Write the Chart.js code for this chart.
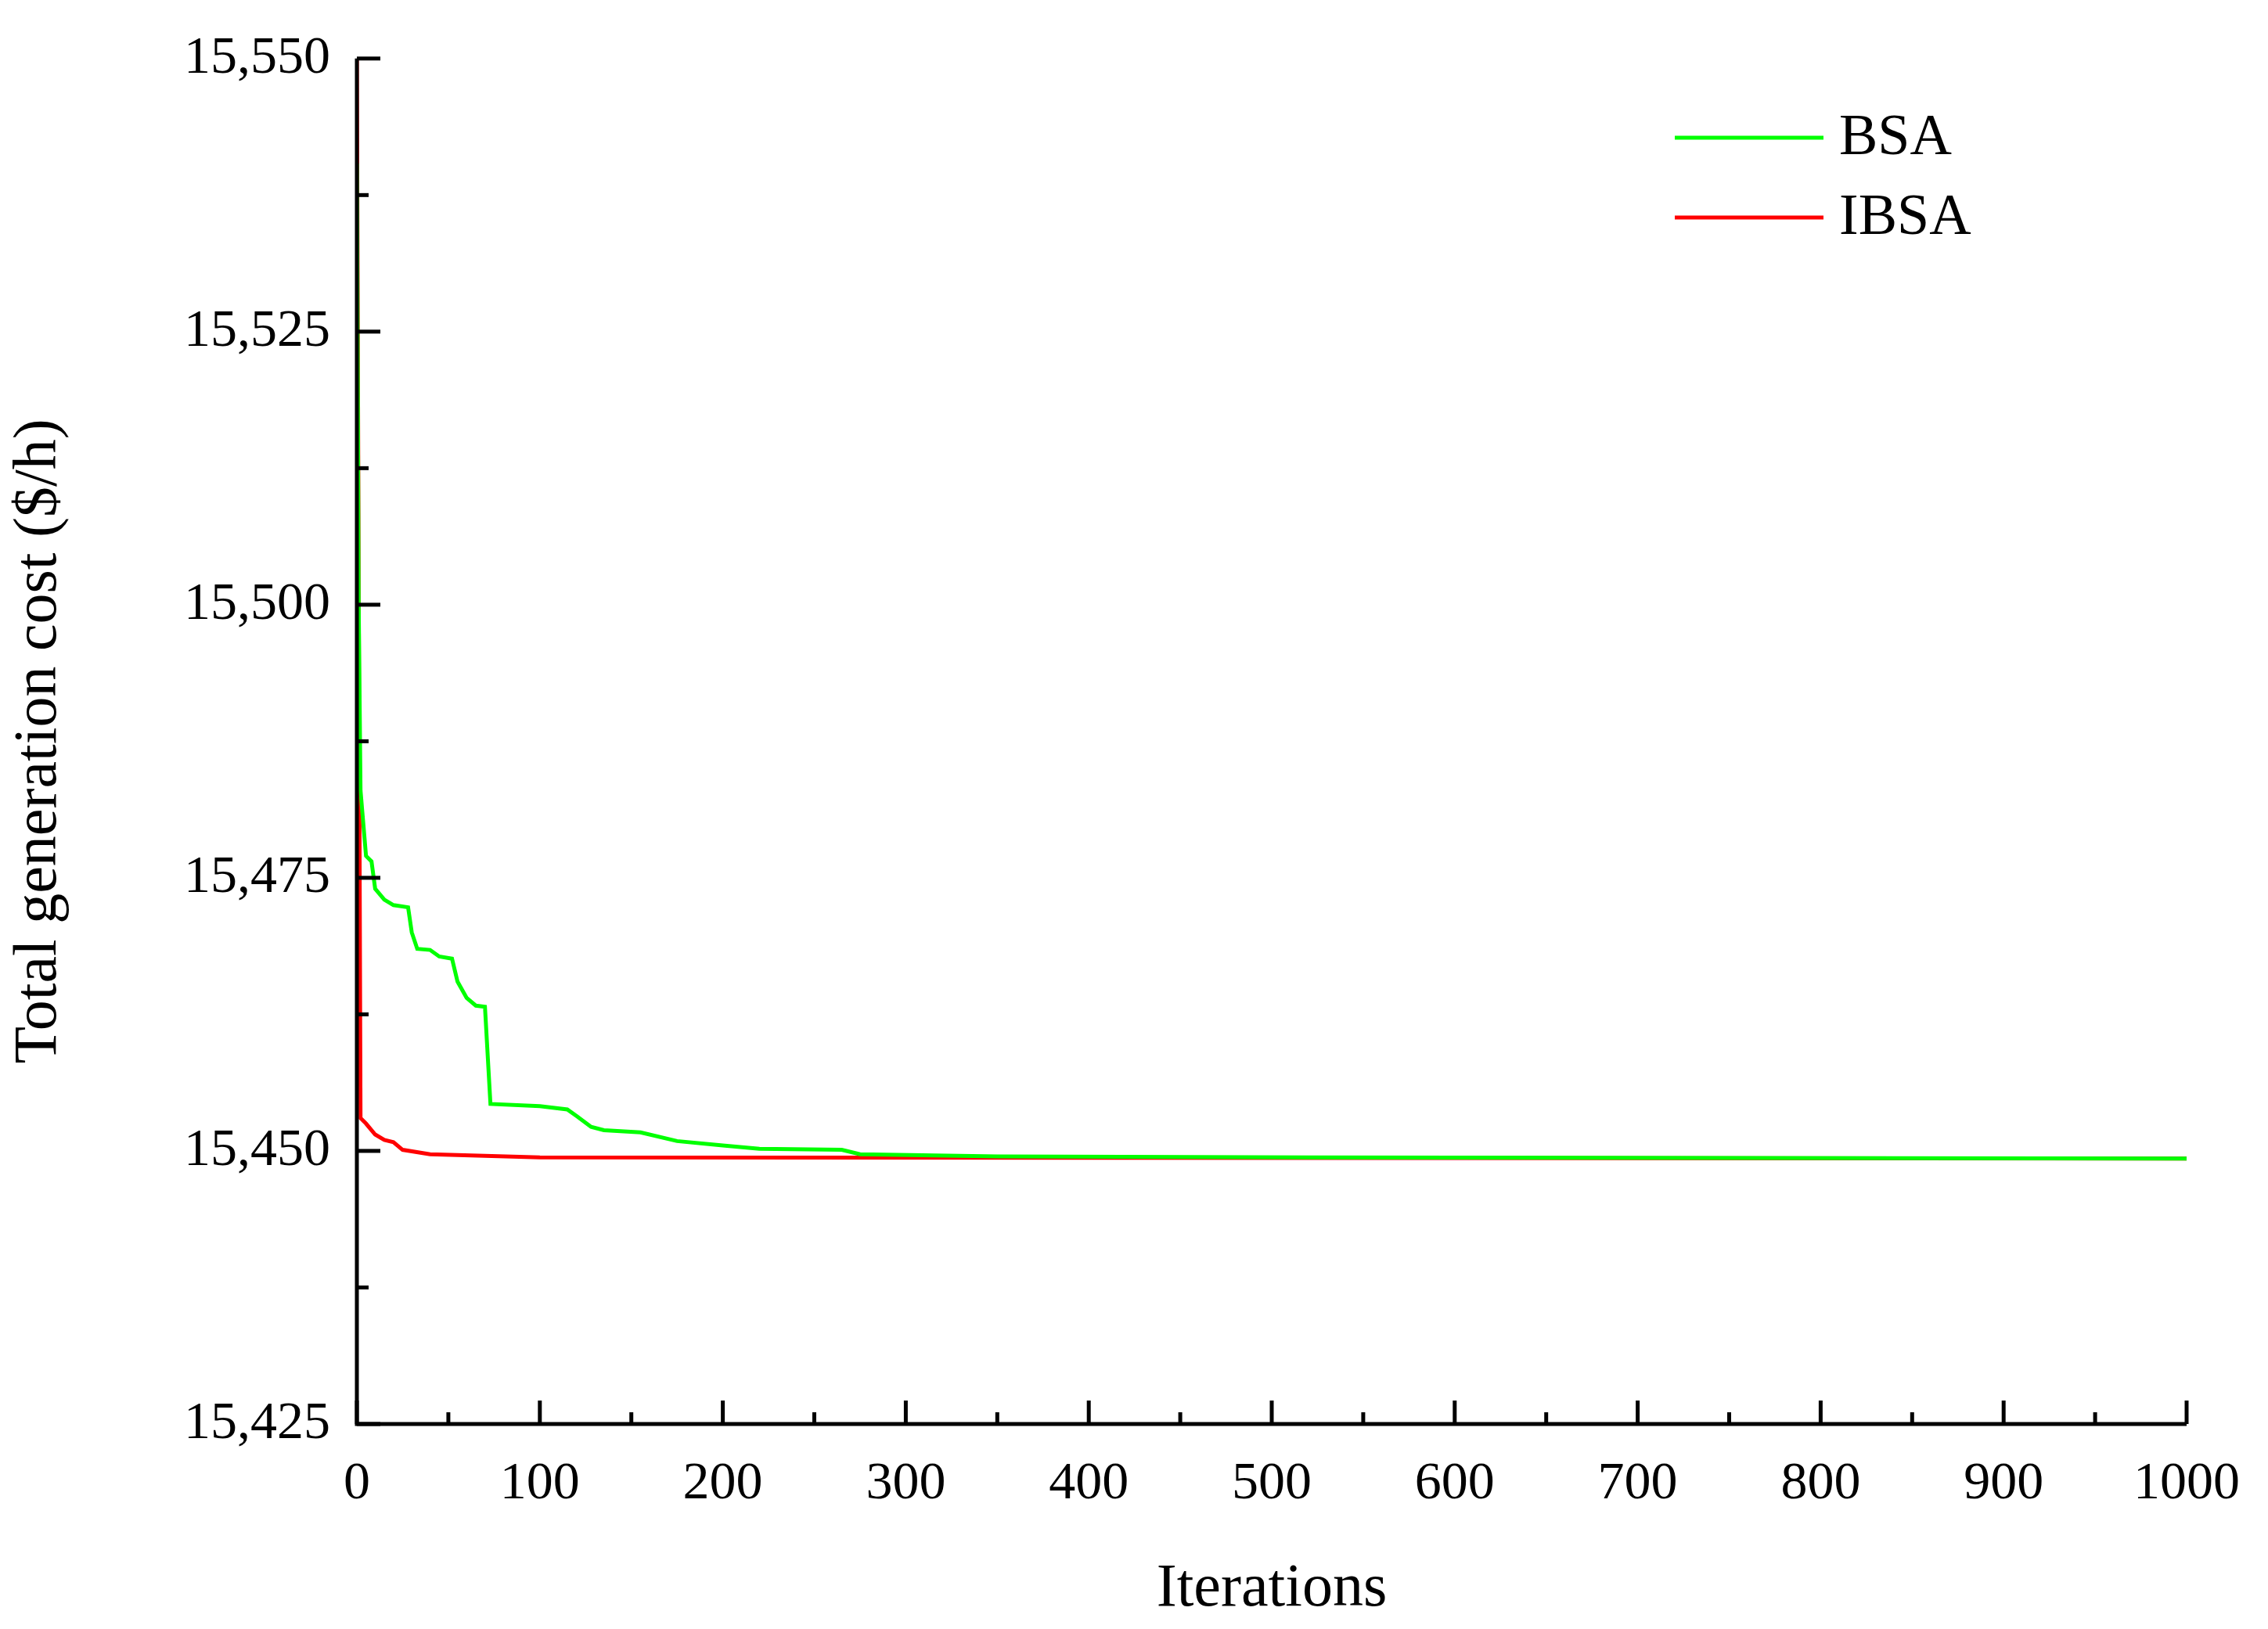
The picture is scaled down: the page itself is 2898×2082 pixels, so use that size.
<!DOCTYPE html>
<html lang="en">
<head>
    <meta charset="UTF-8">
    <title>BSA vs IBSA convergence</title>
    <script src="https://cdn.jsdelivr.net/npm/chart.js"></script>
    <style>
        body { margin: 0; background: #fff; }
        #wrap { width: 2898px; height: 2082px; }
    </style>
</head>
<body>
    <div id="wrap"><canvas id="chart"></canvas></div>
    <script>
        // Values
        const bsaIter = [0, 1, 2, 3, 5, 8, 10, 15, 20, 28, 30, 33, 40, 45, 52, 55, 60, 65, 70, 73, 100, 115, 120, 128, 135, 155, 175, 200, 220, 265, 275, 350, 520, 1000];
        const bsaCost = [15540.4, 15500, 15483, 15481, 15477, 15476.5, 15474, 15473, 15472.5, 15472.3, 15470, 15468.5, 15468.4, 15467.8, 15467.6, 15465.5, 15464, 15463.3, 15463.2, 15454.3, 15454.1, 15453.8, 15453.2, 15452.2, 15451.9, 15451.7, 15450.9, 15450.5, 15450.2, 15450.1, 15449.7, 15449.5, 15449.4, 15449.3];
        const ibsaIter = [0, 2, 5, 10, 15, 20, 25, 40, 100, 1000];
        const ibsaCost = [15550, 15453, 15452.5, 15451.5, 15451, 15450.8, 15450.1, 15449.7, 15449.4, 15449.3];
        const yTicks = [15425, 15450, 15475, 15500, 15525, 15550];
        const xTicks = [0, 100, 200, 300, 400, 500, 600, 700, 800, 900, 1000];

        const font = 'Liberation Serif';

        const innerTicks = {
            id: 'innerTicks',
            afterDraw(chart) {
                const ctx = chart.ctx, x = chart.scales.x, y = chart.scales.y;
                const area = chart.chartArea;
                ctx.save();
                ctx.strokeStyle = '#000';
                ctx.lineWidth = 5;
                ctx.beginPath();
                ctx.moveTo(area.left, area.top);
                ctx.lineTo(area.left, area.bottom);
                ctx.lineTo(area.right, area.bottom);
                ctx.stroke();
                for (let v = 15425; v <= 15550; v += 12.5) {
                    const len = (v % 25 === 0) ? 30 : 15;
                    const py = y.getPixelForValue(v);
                    ctx.beginPath();
                    ctx.moveTo(area.left, py);
                    ctx.lineTo(area.left + len, py);
                    ctx.stroke();
                }
                for (let v = 0; v <= 1000; v += 50) {
                    const len = (v % 100 === 0) ? 30 : 15;
                    const px = x.getPixelForValue(v);
                    ctx.beginPath();
                    ctx.moveTo(px, area.bottom);
                    ctx.lineTo(px, area.bottom - len);
                    ctx.stroke();
                }
                // legend
                ctx.font = '74px "' + font + '"';
                ctx.textBaseline = 'middle';
                ctx.fillStyle = '#000';
                chart.data.datasets.forEach((ds, i) => {
                    const ly = 176 + i * 102;
                    ctx.strokeStyle = ds.borderColor;
                    ctx.lineWidth = 5;
                    ctx.beginPath();
                    ctx.moveTo(2140, ly);
                    ctx.lineTo(2330, ly);
                    ctx.stroke();
                    ctx.fillText(ds.label, 2350, ly + 2);
                });
                ctx.restore();
            }
        };

        new Chart(document.getElementById('chart'), {
            type: 'line',
            data: {
                datasets: [
                    { label: 'BSA', data: bsaIter.map((v, i) => ({ x: v, y: bsaCost[i] })), borderColor: '#00ff00', borderWidth: 5, pointRadius: 0, tension: 0 },
                    { label: 'IBSA', data: ibsaIter.map((v, i) => ({ x: v, y: ibsaCost[i] })), borderColor: '#ff0000', borderWidth: 5, pointRadius: 0, tension: 0 }
                ]
            },
            options: {
                responsive: true,
                maintainAspectRatio: false,
                animation: false,
                layout: { padding: { top: 61, right: 70, left: 0, bottom: 0 } },
                plugins: { legend: { display: false }, tooltip: { enabled: false } },
                scales: {
                    x: {
                        type: 'linear', min: 0, max: 1000,
                        afterBuildTicks: s => { s.ticks = xTicks.map(v => ({ value: v })); },
                        grid: { display: false, drawTicks: false },
                        border: { display: false },
                        ticks: { color: '#000', font: { family: font, size: 68 }, padding: 36, maxRotation: 0,
                                 callback: v => String(v) },
                        title: { display: true, text: 'Iterations', color: '#000', font: { family: font, size: 78 }, padding: { top: 0 } },
                        afterFit: s => { s.height = 262; }
                    },
                    y: {
                        min: 15425, max: 15550,
                        afterBuildTicks: s => { s.ticks = yTicks.map(v => ({ value: v })); },
                        grid: { display: false, drawTicks: false },
                        border: { display: false },
                        ticks: { color: '#000', font: { family: font, size: 68 }, padding: 34,
                                 callback: v => v.toLocaleString('en-US') },
                        title: { display: true, text: 'Total generation cost ($/h)', color: '#000', font: { family: font, size: 78 }, padding: { bottom: 20 } },
                        afterFit: s => { s.width = 456; }
                    }
                }
            },
            plugins: [innerTicks]
        });
    </script>
</body>
</html>
